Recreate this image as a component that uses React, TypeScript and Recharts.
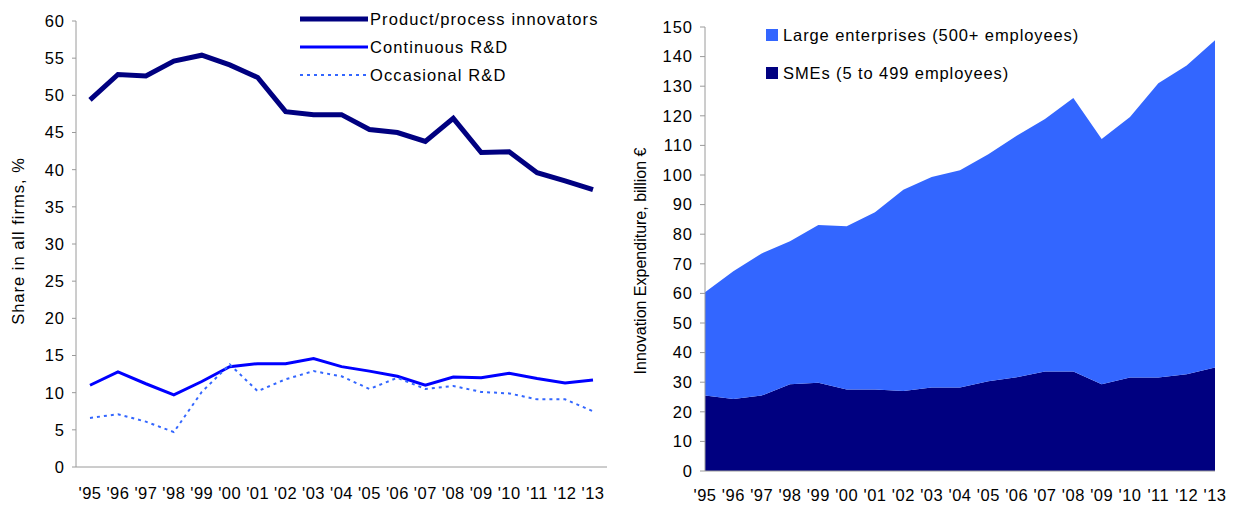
import { LineChart, Line, AreaChart, Area, XAxis, YAxis } from "recharts";

const years = ["'95", "'96", "'97", "'98", "'99", "'00", "'01", "'02", "'03", "'04", "'05", "'06", "'07", "'08", "'09", "'10", "'11", "'12", "'13"];

// left panel: share in all firms, %
const innovators = [49.4, 52.8, 52.6, 54.6, 55.4, 54.1, 52.4, 47.8, 47.4, 47.4, 45.4, 45.0, 43.8, 46.9, 42.3, 42.4, 39.6, 38.5, 37.3];
const continuousRD = [11.0, 12.8, 11.2, 9.7, 11.5, 13.5, 13.9, 13.9, 14.6, 13.5, 12.9, 12.2, 11.0, 12.1, 12.0, 12.6, 11.9, 11.3, 11.7];
const occasionalRD = [6.6, 7.1, 6.1, 4.7, 10.1, 13.8, 10.2, 11.8, 12.9, 12.2, 10.5, 12.0, 10.5, 10.9, 10.1, 9.9, 9.1, 9.1, 7.5];
const shareTicks = [0, 5, 10, 15, 20, 25, 30, 35, 40, 45, 50, 55, 60];

// right panel: innovation expenditure, billion €
const smeSpend = [25.5, 24.3, 25.5, 29.3, 29.8, 27.5, 27.5, 27.0, 28.2, 28.2, 30.3, 31.7, 33.6, 33.6, 29.3, 31.6, 31.6, 32.7, 35.0];
const largeSpend = [34.9, 43.2, 48.0, 48.3, 53.3, 55.2, 59.9, 68.0, 71.1, 73.4, 76.7, 81.6, 85.3, 92.4, 82.9, 88.0, 99.4, 104.3, 110.5];
const spendTicks = [0, 10, 20, 30, 40, 50, 60, 70, 80, 90, 100, 110, 120, 130, 140, 150];

const shareData = years.map((year, i) => ({
  year,
  innovators: innovators[i],
  continuous: continuousRD[i],
  occasional: occasionalRD[i],
}));

const spendData = years.map((year, i) => ({
  year,
  sme: smeSpend[i],
  large: largeSpend[i],
}));

const FONT = "'Liberation Sans', Arial, sans-serif";
const AXIS = "#9a9a9a";
const Y_TICK = { fill: "#000", fontSize: 16.5, fontFamily: FONT, letterSpacing: 1 };
const X_TICK = { fill: "#000", fontSize: 16.5, fontFamily: FONT, letterSpacing: 0.5 };

const lineSeries = [
  { key: "innovators", name: "Product/process innovators", color: "#000080", width: 5, dash: undefined },
  { key: "continuous", name: "Continuous R&D", color: "#0000ff", width: 3, dash: undefined },
  { key: "occasional", name: "Occasional R&D", color: "#3366ff", width: 2, dash: "3 4" },
];

const areaSeries = [
  { key: "large", name: "Large enterprises (500+ employees)", color: "#3366ff" },
  { key: "sme", name: "SMEs (5 to 499 employees)", color: "#000080" },
];

export default function App() {
  return (
    <div style={{ position: "absolute", left: 0, top: 0, width: 1238, height: 507, background: "#fff", fontFamily: FONT }}>
      {/* left: shares */}
      <div style={{ position: "absolute", left: 0, top: 0 }}>
        <LineChart width={620} height={507} data={shareData} margin={{ top: 21, right: 13, bottom: 0, left: 0 }}>
          <XAxis dataKey="year" interval={0} padding={{ left: 14, right: 14 }} height={40}
            tickLine={false} tickSize={0} tickMargin={20} axisLine={{ stroke: AXIS }} tick={X_TICK} />
          <YAxis domain={[0, 60]} ticks={shareTicks} width={76} tickSize={4} tickMargin={7}
            axisLine={{ stroke: AXIS }} tickLine={{ stroke: AXIS }} tick={Y_TICK}
            label={{ value: "Share in all firms, %", angle: -90, position: "insideLeft", offset: 18, dy: -3,
              style: { textAnchor: "middle", fontSize: 16.5, letterSpacing: 1, fill: "#000", fontFamily: FONT } }} />
          {lineSeries.map((s) => (
            <Line key={s.key} type="linear" dataKey={s.key} stroke={s.color} strokeWidth={s.width}
              strokeDasharray={s.dash} dot={false} isAnimationActive={false} />
          ))}
        </LineChart>
        <div style={{ position: "absolute", left: 300, top: 5 }}>
          {lineSeries.map((s) => (
            <div key={s.key} style={{ display: "flex", alignItems: "center", height: 28 }}>
              <svg width={68} height={8} style={{ marginRight: 2 }}>
                <line x1={0} x2={68} y1={4} y2={4} stroke={s.color} strokeWidth={s.width} strokeDasharray={s.dash} />
              </svg>
              <span style={{ fontSize: 16.5, letterSpacing: 1.1, color: "#000", whiteSpace: "nowrap" }}>{s.name}</span>
            </div>
          ))}
        </div>
      </div>

      {/* right: expenditure */}
      <div style={{ position: "absolute", left: 620, top: 0 }}>
        <AreaChart width={618} height={507} data={spendData} margin={{ top: 27, right: 23, bottom: 0, left: 0 }}>
          <XAxis dataKey="year" interval={0} height={36}
            tickLine={false} tickSize={0} tickMargin={18} axisLine={{ stroke: AXIS }} tick={X_TICK} />
          <YAxis domain={[0, 150]} ticks={spendTicks} width={85} tickSize={5} tickMargin={7}
            axisLine={{ stroke: AXIS }} tickLine={{ stroke: AXIS }} tick={Y_TICK}
            label={{ value: "Innovation Expenditure, billion €", angle: -90, position: "insideLeft", offset: 20, dy: 12,
              style: { textAnchor: "middle", fontSize: 16, fill: "#000", fontFamily: FONT } }} />
          <Area type="linear" dataKey="sme" stackId="1" stroke="none" fill="#000080" fillOpacity={1} isAnimationActive={false} />
          <Area type="linear" dataKey="large" stackId="1" stroke="none" fill="#3366ff" fillOpacity={1} isAnimationActive={false} />
        </AreaChart>
        <div style={{ position: "absolute", left: 146, top: 16 }}>
          {areaSeries.map((s) => (
            <div key={s.key} style={{ display: "flex", alignItems: "center", height: 38 }}>
              <span style={{ width: 12, height: 12, background: s.color, display: "inline-block", marginRight: 5 }} />
              <span style={{ fontSize: 16.5, letterSpacing: 0.9, color: "#000", whiteSpace: "nowrap" }}>{s.name}</span>
            </div>
          ))}
        </div>
      </div>
    </div>
  );
}
